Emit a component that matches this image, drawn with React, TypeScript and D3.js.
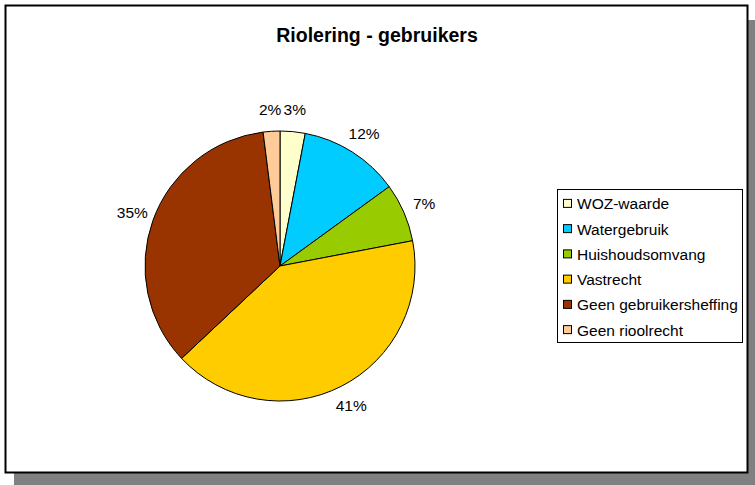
import * as d3 from 'd3'
import { useEffect, useRef } from 'react'

const categories = ['WOZ-waarde', 'Watergebruik', 'Huishoudsomvang', 'Vastrecht', 'Geen gebruikersheffing', 'Geen rioolrecht']
const shares = [3, 12, 7, 41, 35, 2]
const colors = ['#FFFFCC', '#00CCFF', '#99CC00', '#FFCC00', '#993300', '#FFCC99']

export default function App() {
    const svgRef = useRef<SVGSVGElement>(null)

    useEffect(() => {
        makeChart(svgRef)
    }, [])

    function makeChart(svgRef: React.RefObject<SVGSVGElement | null>) {
        const width = 755
        const height = 485
        const cx = 280
        const cy = 266
        const radius = 135
        const font = 'Arial, "Liberation Sans", sans-serif'

        const svg = d3.select(svgRef.current).attr('width', width).attr('height', height)
        svg.selectAll('*').remove()

        // frame with drop shadow
        svg.append('rect').attr('x', 14).attr('y', 20).attr('width', 800).attr('height', 800).attr('fill', '#808080')
        svg.append('rect').attr('x', 5.5).attr('y', 5.5).attr('width', 742).attr('height', 467)
            .attr('fill', '#fff').attr('stroke', '#000').attr('stroke-width', 2)

        svg.append('text').attr('x', 377).attr('y', 42).attr('text-anchor', 'middle')
            .attr('font-family', font).attr('font-weight', 'bold').attr('font-size', 19.5)
            .text('Riolering - gebruikers')

        const data = categories.map((c, i) => ({ name: c, value: shares[i], color: colors[i] }))
        const pie = d3.pie<{ name: string, value: number, color: string }>().value(d => d.value).sort(null)
        const arcs = pie(data)
        const arc = d3.arc<d3.PieArcDatum<{ name: string, value: number, color: string }>>().innerRadius(0).outerRadius(radius)
        const labelArc = d3.arc<d3.PieArcDatum<{ name: string, value: number, color: string }>>().innerRadius(157).outerRadius(157)

        const g = svg.append('g').attr('transform', `translate(${cx}, ${cy})`)
        g.selectAll('path')
            .data(arcs)
            .enter()
            .append('path')
            .attr('d', arc)
            .attr('fill', d => d.data.color)
            .attr('stroke', '#000')
            .attr('stroke-width', 1)

        g.selectAll('text')
            .data(arcs)
            .enter()
            .append('text')
            .attr('x', d => labelArc.centroid(d)[0])
            .attr('y', d => labelArc.centroid(d)[1])
            .attr('dy', '0.36em')
            .attr('text-anchor', 'middle')
            .attr('font-family', font)
            .attr('font-size', 15.5)
            .text(d => `${d.data.value}%`)

        // legend
        const legend = svg.append('g')
        legend.append('rect').attr('x', 557.5).attr('y', 189.5).attr('width', 185).attr('height', 153)
            .attr('fill', '#fff').attr('stroke', '#000').attr('stroke-width', 1)
        const rowY = d3.scaleBand().domain(categories).range([190, 344]).paddingOuter(0.05)
        const items = legend.selectAll('g.item')
            .data(data)
            .enter()
            .append('g')
            .attr('class', 'item')
            .attr('transform', d => `translate(0, ${rowY(d.name)! + rowY.bandwidth() / 2})`)
        items.append('rect').attr('x', 563.5).attr('y', -4.5).attr('width', 8).attr('height', 8)
            .attr('fill', d => d.color).attr('stroke', '#000').attr('stroke-width', 1)
        items.append('text').attr('x', 577).attr('dy', '0.36em')
            .attr('font-family', font).attr('font-size', 15.5)
            .text(d => d.name)
    }

    return (
        <svg ref={svgRef} style={{ position: 'absolute', left: 0, top: 0, display: 'block' }}></svg>
    )
}
